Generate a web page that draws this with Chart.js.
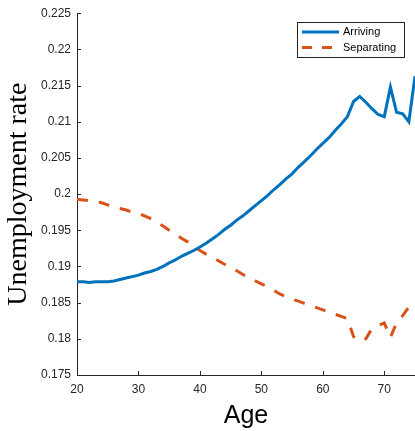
<!DOCTYPE html>
<html>
<head>
<meta charset="utf-8">
<script src="https://cdn.jsdelivr.net/npm/chart.js@4/dist/chart.umd.min.js"></script>
<style>
	html, body { margin: 0; padding: 0; background: #fff; }
	#wrap { width: 415px; height: 431px; position: relative; }
</style>
</head>
<body>
<div id="wrap"><canvas id="myChart" width="415" height="431"></canvas></div>
<script>
// ages 20..75
const ages = [20, 21, 22, 23, 24, 25, 26, 27, 28, 29, 30, 31, 32, 33, 34, 35, 36, 37, 38, 39,
	40, 41, 42, 43, 44, 45, 46, 47, 48, 49, 50, 51, 52, 53, 54, 55, 56, 57, 58, 59,
	60, 61, 62, 63, 64, 65, 66, 67, 68, 69, 70, 71, 72, 73, 74, 75];

const arriving = [0.1879, 0.1879, 0.1878, 0.1879, 0.1879, 0.1879, 0.1880, 0.1882, 0.1884, 0.1886,
	0.1888, 0.1891, 0.1893, 0.1896, 0.1900, 0.1905, 0.1909, 0.1914, 0.1918, 0.1922,
	0.1927, 0.1932, 0.1938, 0.1944, 0.1951, 0.1957, 0.1964, 0.1970, 0.1977, 0.1984,
	0.1991, 0.1998, 0.2006, 0.2013, 0.2021, 0.2028, 0.2037, 0.2045, 0.2053, 0.2062,
	0.2070, 0.2078, 0.2088, 0.2097, 0.2107, 0.2128, 0.2135, 0.2127, 0.2118, 0.2110,
	0.2107, 0.2148, 0.2113, 0.2111, 0.2100, 0.2163];

const separating = [0.1993, 0.1992, 0.1991, 0.1990, 0.1988, 0.1985, 0.1982, 0.1980, 0.1978, 0.1975,
	0.1973, 0.1970, 0.1966, 0.1961, 0.1956, 0.1950, 0.1945, 0.1939, 0.1934, 0.1928,
	0.1922, 0.1917, 0.1913, 0.1908, 0.1903, 0.1899, 0.1894, 0.1889, 0.1884, 0.1880,
	0.1876, 0.1872, 0.1867, 0.1862, 0.1858, 0.1855, 0.1852, 0.1849, 0.1846, 0.1843,
	0.1840, 0.1837, 0.1834, 0.1831, 0.1828, 0.1803, 0.1797, 0.1800, 0.1814, 0.1818,
	0.1822, 0.1802, 0.1822, 0.1832, 0.1844, 0.1845];

const xTicks = [20, 30, 40, 50, 60, 70];
const yTicks = [0.175, 0.18, 0.185, 0.19, 0.195, 0.2, 0.205, 0.21, 0.215, 0.22, 0.225];

const axisColor = '#262626';
const blue = '#0072BD';
const orange = '#D95319';

function toPoints(values) {
	return ages.map((a, i) => ({ x: a, y: values[i] }));
}

// matlab style ticks pointing into the plot
const innerTicks = {
	id: 'innerTicks',
	afterDraw(chart) {
		let ctx = chart.ctx;
		let xs = chart.scales.x, ys = chart.scales.y;
		let area = chart.chartArea;
		ctx.save();
		ctx.strokeStyle = axisColor;
		ctx.lineWidth = 1;
		ctx.beginPath();
		xTicks.forEach(v => {
			let px = Math.round(xs.getPixelForValue(v)) + 0.5;
			ctx.moveTo(px, area.bottom);
			ctx.lineTo(px, area.bottom - 4);
		});
		yTicks.forEach(v => {
			let py = Math.round(ys.getPixelForValue(v)) + 0.5;
			ctx.moveTo(area.left, py);
			ctx.lineTo(area.left + 4, py);
		});
		ctx.stroke();
		ctx.restore();
	}
};

// legend box in the upper right corner
const boxLegend = {
	id: 'boxLegend',
	afterDraw(chart) {
		let ctx = chart.ctx;
		let x0 = 297, y0 = 22, w = 107, h = 35;
		ctx.save();
		ctx.fillStyle = '#fff';
		ctx.fillRect(x0, y0, w, h);
		ctx.strokeStyle = axisColor;
		ctx.lineWidth = 1;
		ctx.strokeRect(x0 + 0.5, y0 + 0.5, w, h);
		ctx.font = '11px "Liberation Sans", Arial, sans-serif';
		ctx.textBaseline = 'middle';
		chart.data.datasets.forEach((ds, i) => {
			let yy = y0 + 10 + i * 15.5;
			ctx.strokeStyle = ds.borderColor;
			ctx.lineWidth = ds.borderWidth;
			ctx.setLineDash(ds.borderDash ? [10, 10] : []);
			ctx.beginPath();
			ctx.moveTo(x0 + 5, yy);
			ctx.lineTo(x0 + (ds.borderDash ? 36 : 42), yy);
			ctx.stroke();
			ctx.setLineDash([]);
			ctx.fillStyle = '#000';
			ctx.fillText(ds.label, x0 + 46, yy);
		});
		ctx.restore();
	}
};

let ctx = document.getElementById('myChart');

let myLineChart = new Chart(ctx, {
	type: 'line',
	data: {
		datasets: [{
			label: 'Arriving',
			data: toPoints(arriving),
			borderColor: blue,
			borderWidth: 3,
			pointRadius: 0,
			tension: 0
		}, {
			label: 'Separating',
			data: toPoints(separating),
			borderColor: orange,
			borderWidth: 3,
			borderDash: [11, 11],
			borderCapStyle: 'butt',
			pointRadius: 0,
			tension: 0
		}]
	},
	options: {
		responsive: false,
		animation: false,
		layout: { padding: { top: 12, right: 0, left: 0, bottom: 0 } },
		plugins: {
			legend: { display: false },
			tooltip: { enabled: false }
		},
		scales: {
			x: {
				type: 'linear',
				min: 20,
				max: 75,
				afterFit: s => { s.height = 56; },
				afterBuildTicks: s => { s.ticks = xTicks.map(v => ({ value: v })); },
				grid: { display: true, drawOnChartArea: false, drawTicks: false },
				border: { color: axisColor, width: 1 },
				ticks: {
					color: axisColor,
					padding: 7,
					maxRotation: 0,
					font: { family: '"Liberation Sans", Arial, sans-serif', size: 12 }
				},
				title: {
					display: true,
					text: 'Age',
					color: '#000',
					padding: { top: 6, bottom: 0 },
					font: { family: '"Liberation Sans", Arial, sans-serif', size: 25 }
				}
			},
			y: {
				min: 0.175,
				max: 0.225,
				afterFit: s => { s.width = 77; },
				afterBuildTicks: s => { s.ticks = yTicks.map(v => ({ value: v })); },
				grid: { display: true, drawOnChartArea: false, drawTicks: false },
				border: { color: axisColor, width: 1 },
				ticks: {
					color: axisColor,
					padding: 6,
					font: { family: '"Liberation Sans", Arial, sans-serif', size: 12 },
					callback: v => String(parseFloat(v.toFixed(3)))
				},
				title: {
					display: true,
					text: 'Unemployment rate',
					color: '#000',
					padding: { top: 2, bottom: 0 },
					font: { family: '"Liberation Serif", "DejaVu Serif", serif', size: 28 }
				}
			}
		}
	},
	plugins: [innerTicks, boxLegend]
});
</script>
</body>
</html>
